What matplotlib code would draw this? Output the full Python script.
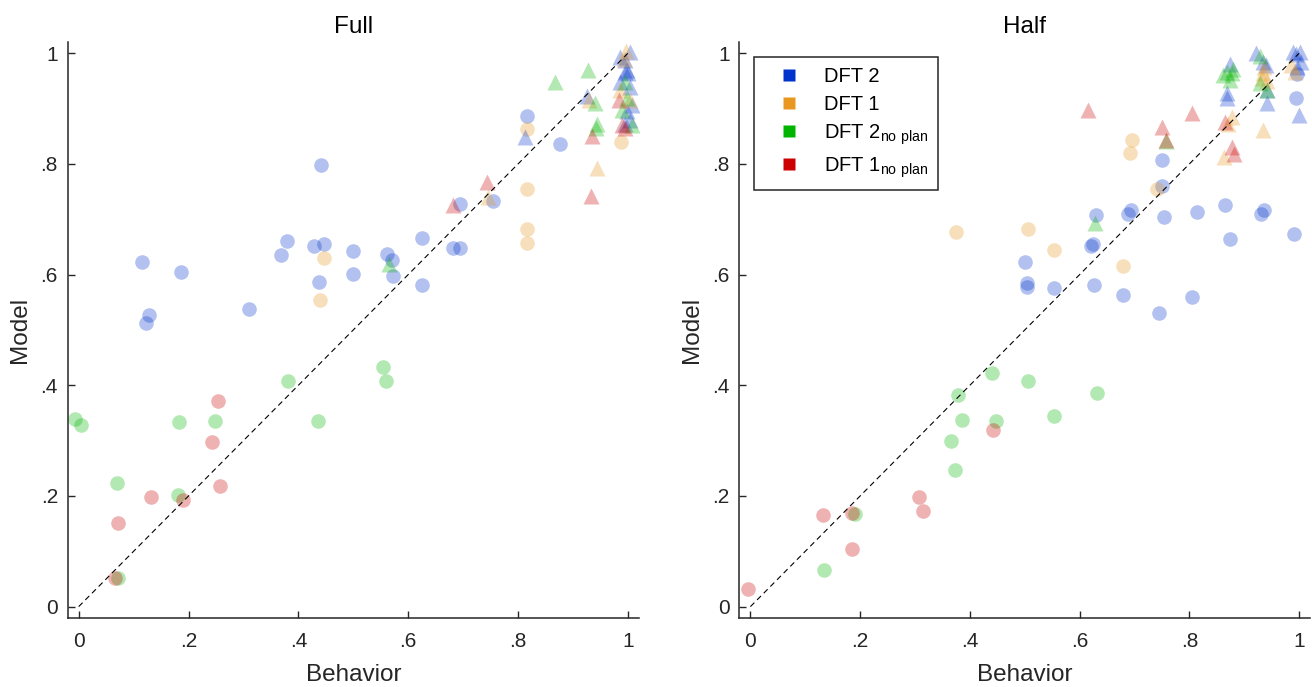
import matplotlib
matplotlib.use("Agg")
import matplotlib.pyplot as plt
from matplotlib.lines import Line2D

plt.rcParams['font.family'] = ['Liberation Sans', 'DejaVu Sans']
plt.rcParams['mathtext.fontset'] = 'custom'
plt.rcParams['mathtext.rm'] = 'Liberation Sans'

# colours of the four model variants
names = ['DFT 2', 'DFT 1', 'DFT 2$_{\\mathrm{no\\ plan}}$', 'DFT 1$_{\\mathrm{no\\ plan}}$']
colors = ['#0033cc', '#e8981f', '#00b400', '#cc0000']

# ---- Full: circles (o) and triangles (t), (behavior, model)
full_dft2_o = [(0.116, 0.623), (0.186, 0.604), (0.128, 0.527), (0.123, 0.513), (0.311, 0.537),
               (0.368, 0.635), (0.379, 0.660), (0.429, 0.652), (0.446, 0.655), (0.442, 0.798),
               (0.437, 0.587), (0.499, 0.642), (0.500, 0.602), (0.561, 0.637), (0.571, 0.626),
               (0.573, 0.598), (0.625, 0.667), (0.625, 0.581), (0.681, 0.648), (0.695, 0.649),
               (0.695, 0.727), (0.754, 0.733), (0.816, 0.886), (0.877, 0.836)]
full_dft1_o = [(0.446, 0.630), (0.439, 0.554), (0.816, 0.755), (0.816, 0.863), (0.816, 0.683),
               (0.817, 0.657), (0.988, 0.840)]
full_dft2np_o = [(-0.007, 0.339), (0.005, 0.329), (0.070, 0.223), (0.072, 0.051), (0.183, 0.334),
                 (0.180, 0.202), (0.249, 0.336), (0.381, 0.407), (0.436, 0.336), (0.554, 0.433),
                 (0.560, 0.408)]
full_dft1np_o = [(0.066, 0.052), (0.072, 0.151), (0.132, 0.199), (0.190, 0.193), (0.242, 0.297),
                 (0.253, 0.372), (0.258, 0.218)]
full_dft2_t = [(0.812, 0.848), (0.925, 0.922), (1.004, 1.003), (0.986, 0.994), (0.995, 0.988),
               (0.998, 0.970), (0.995, 0.967), (1.000, 0.965), (0.986, 0.949), (1.004, 0.940),
               (1.007, 0.907), (0.998, 0.895), (1.004, 0.879), (0.995, 0.872)]
full_dft1_t = [(0.746, 0.741), (0.943, 0.793), (0.930, 0.915), (0.996, 1.005), (0.986, 0.934),
               (1.004, 0.916), (0.993, 0.990)]
full_dft2np_t = [(0.565, 0.619), (0.868, 0.948), (0.928, 0.970), (0.940, 0.910), (0.944, 0.872),
                 (0.942, 0.865), (0.994, 0.949), (0.998, 0.919), (0.989, 0.898), (1.007, 0.870)]
full_dft1np_t = [(0.682, 0.726), (0.743, 0.768), (0.933, 0.742), (0.935, 0.850), (0.984, 0.916),
                 (0.989, 0.870), (0.995, 0.865)]

# ---- Half
half_dft2_o = [(0.500, 0.623), (0.504, 0.584), (0.504, 0.577), (0.554, 0.576), (0.621, 0.652),
               (0.624, 0.655), (0.627, 0.581), (0.629, 0.707), (0.679, 0.564), (0.688, 0.710),
               (0.693, 0.716), (0.744, 0.530), (0.750, 0.808), (0.751, 0.760), (0.754, 0.704),
               (0.814, 0.713), (0.804, 0.559), (0.865, 0.725), (0.874, 0.665), (0.930, 0.709),
               (0.936, 0.716), (0.991, 0.673), (0.995, 0.919), (0.997, 0.962)]
half_dft1_o = [(0.374, 0.677), (0.506, 0.683), (0.553, 0.644), (0.680, 0.616), (0.691, 0.819),
               (0.696, 0.843), (0.741, 0.755)]
half_dft2np_o = [(0.440, 0.422), (0.506, 0.408), (0.632, 0.386), (0.379, 0.383), (0.386, 0.338),
                 (0.447, 0.336), (0.553, 0.344), (0.366, 0.300), (0.373, 0.247), (0.190, 0.167),
                 (0.135, 0.067)]
half_dft1np_o = [(-0.005, 0.031), (0.132, 0.165), (0.185, 0.170), (0.186, 0.105), (0.308, 0.199),
                 (0.315, 0.173), (0.443, 0.320)]
half_dft2_t = [(0.874, 0.980), (0.868, 0.928), (0.868, 0.919), (0.922, 1.000), (0.935, 0.985),
               (0.940, 0.979), (0.941, 0.934), (0.941, 0.910), (0.989, 1.003), (1.001, 1.003),
               (0.995, 0.998), (1.004, 0.985), (0.996, 0.976), (0.999, 0.888)]
half_dft1_t = [(0.937, 0.976), (0.935, 0.964), (0.932, 0.955), (0.941, 0.950), (0.935, 0.861),
               (0.986, 0.979), (0.992, 0.967), (0.877, 0.885), (0.870, 0.872), (0.864, 0.813)]
half_dft2np_t = [(0.628, 0.694), (0.758, 0.842), (0.868, 0.967), (0.880, 0.972), (0.877, 0.964),
                 (0.874, 0.952), (0.862, 0.960), (0.928, 0.996), (0.928, 0.946), (0.941, 0.934)]
half_dft1np_t = [(0.615, 0.898), (0.750, 0.867), (0.758, 0.843), (0.804, 0.893), (0.865, 0.876),
                 (0.877, 0.831), (0.882, 0.818)]

panels = [
    ('Full', [full_dft2_o, full_dft1_o, full_dft2np_o, full_dft1np_o],
             [full_dft2_t, full_dft1_t, full_dft2np_t, full_dft1np_t]),
    ('Half', [half_dft2_o, half_dft1_o, half_dft2np_o, half_dft1np_o],
             [half_dft2_t, half_dft1_t, half_dft2np_t, half_dft1np_t]),
]

ticks = [0, 0.2, 0.4, 0.6, 0.8, 1]
ticklabels = ['0', '.2', '.4', '.6', '.8', '1']
dark = '#262626'

fig = plt.figure(figsize=(13.12, 6.87), dpi=100)
axes = [fig.add_axes([0.0516, 0.1009, 0.4353, 0.8384]),
        fig.add_axes([0.5636, 0.1009, 0.4349, 0.8384])]

for ax, (title, circles, triangles) in zip(axes, panels):
    for pts, c in zip(circles, colors):
        xs = [p[0] for p in pts]
        ys = [p[1] for p in pts]
        ax.plot(xs, ys, 'o', ms=10.5, color=c, alpha=0.3, mec='none')
    for pts, c in zip(triangles, colors):
        xs = [p[0] for p in pts]
        ys = [p[1] for p in pts]
        ax.plot(xs, ys, '^', ms=11, color=c, alpha=0.3, mec='none')
    ax.plot([0, 1], [0, 1], '--', color='k', lw=0.8, dashes=(5, 3.5), zorder=5)

    ax.set_xlim(-0.02, 1.02)
    ax.set_ylim(-0.02, 1.021)
    ax.set_xticks(ticks)
    ax.set_xticklabels(ticklabels)
    ax.set_yticks(ticks)
    ax.set_yticklabels(ticklabels)
    ax.tick_params(direction='in', length=5, width=1, colors=dark, labelsize=15)
    ax.tick_params(axis='x', pad=10)
    ax.tick_params(axis='y', pad=7)
    for s in ['top', 'right']:
        ax.spines[s].set_visible(False)
    for s in ['left', 'bottom']:
        ax.spines[s].set_color(dark)
        ax.spines[s].set_linewidth(1.1)
    ax.set_xlabel('Behavior', fontsize=17.5, color=dark, labelpad=10)
    ax.set_ylabel('Model', fontsize=17.5, color=dark, labelpad=7)
    ax.set_title(title, fontsize=17.5, color='k', pad=6.5)

handles = [Line2D([], [], ls='none', marker='s', ms=9, color=c, mec='none') for c in colors]
leg = axes[1].legend(handles, names, loc='upper left', bbox_to_anchor=(0.0256, 0.973),
                     borderaxespad=0, fancybox=False, framealpha=1, edgecolor=dark,
                     fontsize=14.5, handlelength=2.5, handletextpad=0.45, borderpad=0.5,
                     labelspacing=0.42)
leg.get_frame().set_linewidth(1.1)

fig.savefig('out.png', dpi=100)
